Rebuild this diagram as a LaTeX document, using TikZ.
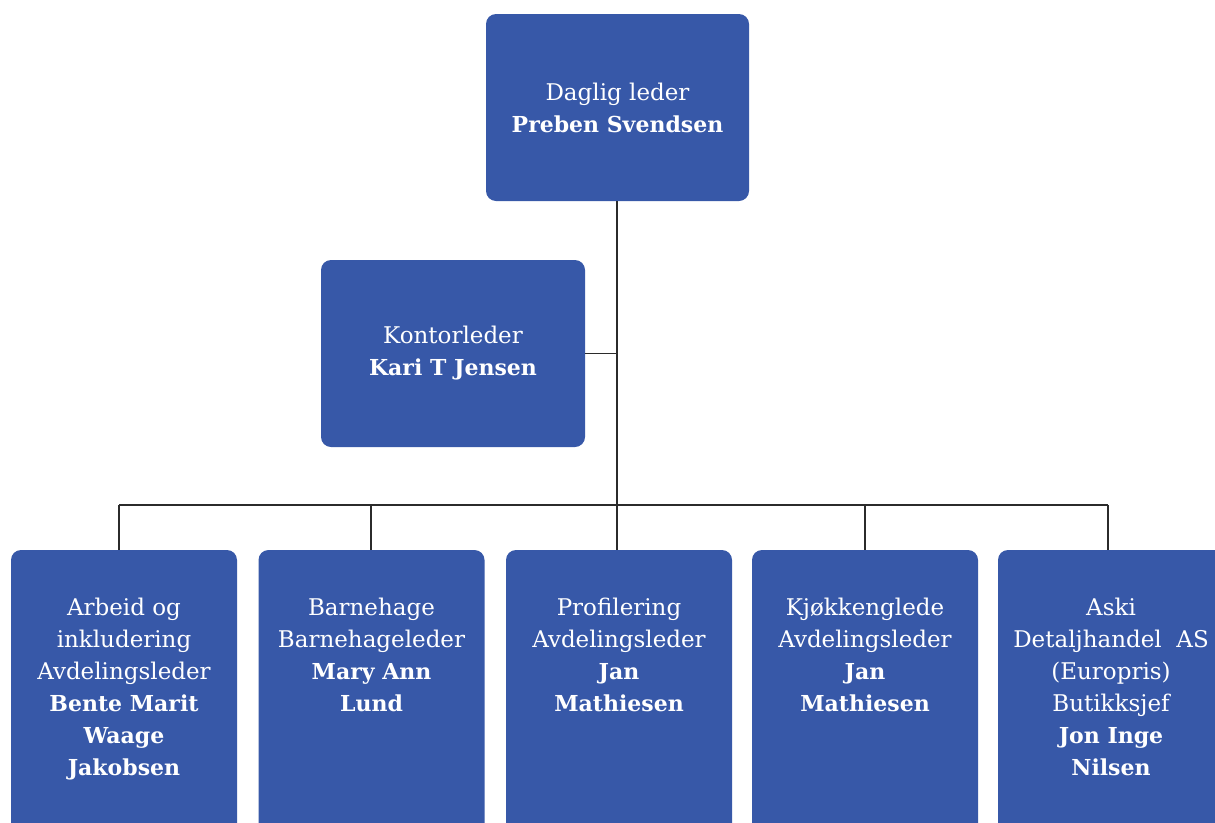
\documentclass[tikz,border=0pt]{standalone}
\usepackage{fontspec}
\setmainfont{DejaVu Serif}
\definecolor{boxblue}{HTML}{3758A8}
\definecolor{linegray}{HTML}{2B2B2B}
\newcommand{\nm}[1]{{\fontsize{22pt}{32pt}\selectfont\bfseries #1}}
\begin{document}
\begin{tikzpicture}[x=1pt,y=-1pt,
  box/.style={fill=boxblue, draw=none, rounded corners=10pt, inner sep=0pt},
  topbox/.style={box, minimum width=263pt, minimum height=187pt},
  lowbox/.style={box, minimum width=226pt, minimum height=300pt},
  txt/.style={text=white, align=center, inner sep=0pt, font=\fontsize{23pt}{32pt}\selectfont},
  conn/.style={draw=linegray, line width=1.5pt}]
\useasboundingbox (0,0) rectangle (1215,822);
\clip (0,0) rectangle (1215,822);
% boxes
\node[topbox] (top) at (617.5,107.5) {};
\node[topbox, minimum width=264pt] (kontor) at (453,353.5) {};
\node[lowbox] (b1) at (124,700) {};
\node[lowbox] (b2) at (371.5,700) {};
\node[lowbox] (b3) at (619,700) {};
\node[lowbox] (b4) at (865,700) {};
\node[lowbox] (b5) at (1111,700) {};
% texts
\node[txt] (ttop) at (top.center) {Daglig leder\\\nm{Preben Svendsen}};
\node[txt] (tkontor) at (kontor.center) {Kontorleder\\\nm{Kari T Jensen}};
\node[txt, anchor=north] (t1) at (124,597.5) {Arbeid og\\inkludering\\Avdelingsleder\\\nm{Bente Marit}\\\nm{Waage}\\\nm{Jakobsen}};
\node[txt, anchor=north] (t2) at (371.5,597.5) {Barnehage\\Barnehageleder\\\nm{Mary Ann}\\\nm{Lund}};
\node[txt, anchor=north] (t3) at (619,597.5) {Profilering\\Avdelingsleder\\\nm{Jan}\\\nm{Mathiesen}};
\node[txt, anchor=north] (t4) at (865,597.5) {Kjøkkenglede\\Avdelingsleder\\\nm{Jan}\\\nm{Mathiesen}};
\node[txt, anchor=north] (t5) at (1111,597.5) {Aski\\Detaljhandel~ AS\\(Europris)\\Butikksjef\\\nm{Jon Inge}\\\nm{Nilsen}};
% connectors
\coordinate (spine) at (617,505);
\coordinate (j1) at (119,505);
\coordinate (j2) at (371,505);
\coordinate (j3) at (617,505);
\coordinate (j4) at (865,505);
\coordinate (j5) at (1108,505);
\draw[conn] (top.south -| spine) -- (spine);
\draw[conn] (kontor.east) -- (kontor.east -| spine);
\draw[conn] (j1) -- (j5);
\draw[conn] (j1) -- (j1 |- b1.north);
\draw[conn] (j2) -- (j2 |- b2.north);
\draw[conn] (j3) -- (j3 |- b3.north);
\draw[conn] (j4) -- (j4 |- b4.north);
\draw[conn] (j5) -- (j5 |- b5.north);
\end{tikzpicture}
\end{document}
